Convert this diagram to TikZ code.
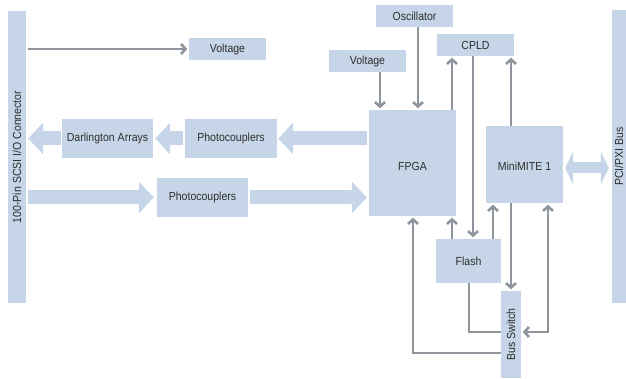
\documentclass[tikz,border=0pt]{standalone}
\usepackage{fontspec}
\setmainfont[FakeStretch=0.9]{Liberation Sans}
\usetikzlibrary{arrows.meta,calc}
\definecolor{boxfill}{HTML}{C6D5E7}
\definecolor{linegray}{HTML}{8E959C}
\definecolor{txt}{HTML}{2E2E2E}
\tikzset{
  box/.style={fill=boxfill, draw=none, inner sep=0pt, text=txt, font=\fontsize{11.7}{13}\selectfont, align=center},
  garrow/.style={draw=linegray, line width=2.6pt, -{Straight Barb[length=4.5pt,width=10pt]}, shorten >=1.5pt},
  gline/.style={draw=linegray, line width=2.6pt},
  bigarrow/.style={draw=boxfill, line width=14pt, -{Triangle[length=15pt,width=31pt]}},
  dblarrow/.style={draw=boxfill, line width=11pt, {Triangle[length=8pt,width=33pt]}-{Triangle[length=8pt,width=33pt]}},
}
\begin{document}
\begin{tikzpicture}[x=1pt,y=-1pt]
\useasboundingbox (0,0) rectangle (626,379);
% boxes
\node[box, minimum width=18pt, minimum height=292pt] (conn) at (17,157) {\rotatebox{90}{100-Pin SCSI I/O Connector}};
\node[box, minimum width=77pt, minimum height=22pt] (volt1) at (227.5,49) {Voltage};
\node[box, minimum width=91pt, minimum height=39pt] (darl) at (107.5,138.5) {Darlington Arrays};
\node[box, minimum width=92pt, minimum height=39pt] (photo1) at (231,138.5) {Photocouplers};
\node[box, minimum width=91pt, minimum height=39pt] (photo2) at (202.5,197.5) {Photocouplers};
\node[box, minimum width=87pt, minimum height=106pt, text height=16pt, text depth=0pt] (fpga) at (412.5,163) {FPGA};
\node[box, minimum width=77pt, minimum height=77pt, text height=13pt, text depth=0pt] (mini) at (524.5,164.5) {MiniMITE 1};
\node[box, minimum width=77pt, minimum height=22pt] (osc) at (414.5,16) {Oscillator};
\node[box, minimum width=77pt, minimum height=22pt] (cpld) at (475.5,45) {CPLD};
\node[box, minimum width=77pt, minimum height=22pt] (volt2) at (367.5,61) {Voltage};
\node[box, minimum width=14pt, minimum height=293pt] (pci) at (619,156.5) {\rotatebox{90}{PCI/PXI Bus}};
\node[box, minimum width=65pt, minimum height=44pt] (flash) at (468.5,261) {Flash};
\node[box, minimum width=20pt, minimum height=87pt] (bus) at (511,334.5) {\rotatebox{90}{Bus Switch}};
% helper coordinates
\coordinate (xa) at (380,0);
\coordinate (xb) at (418,0);
\coordinate (xc) at (452,0);
\coordinate (xd) at (473,0);
\coordinate (xe) at (511,0);
\coordinate (xf) at (493,0);
\coordinate (xg) at (548,0);
\coordinate (xh) at (469,0);
\coordinate (xi) at (413,0);
\coordinate (ya) at (0,332);
\coordinate (yb) at (0,353);
\coordinate (yc) at (0,168);
% big arrows
\draw[bigarrow, shorten <=2pt, shorten >=2pt] (photo1.west) -- (darl.east);
\draw[bigarrow, shorten <=1pt, shorten >=2pt] (darl.west) -- (conn.east |- darl.west);
\draw[bigarrow, shorten <=2pt, shorten >=1pt] (fpga.west |- photo1.east) -- (photo1.east);
\draw[bigarrow, shorten <=2pt, shorten >=3pt] (conn.east |- photo2.west) -- (photo2.west);
\draw[bigarrow, shorten <=2pt, shorten >=2pt] (photo2.east) -- (fpga.west |- photo2.east);
\draw[dblarrow, shorten <=2pt, shorten >=3pt] (mini.east |- yc) -- (pci.west |- yc);
% gray connectors
\draw[garrow, shorten <=2pt] (conn.east |- volt1.west) -- (volt1.west);
\draw[garrow] (volt2.south -| xa) -- (fpga.north -| xa);
\draw[garrow] (osc.south -| xb) -- (fpga.north -| xb);
\draw[garrow] (fpga.north -| xc) -- (cpld.south -| xc);
\draw[garrow] (cpld.south -| xd) -- (flash.north -| xd);
\draw[garrow] (mini.north -| xe) -- (cpld.south -| xe);
\draw[garrow] (flash.north -| xc) -- (fpga.south -| xc);
\draw[garrow] (flash.north -| xf) -- (mini.south -| xf);
\draw[garrow] (mini.south -| xe) -- (bus.north -| xe);
\draw[garrow, {Straight Barb[length=4.5pt,width=10pt]}-{Straight Barb[length=4.5pt,width=10pt]}, shorten <=1.5pt] (bus.east |- ya) -- (xg |- ya) -- (mini.south -| xg);
\draw[gline] (flash.south -| xh) |- (bus.west |- ya);
\draw[garrow] (bus.west |- yb) -| (fpga.south -| xi);
\end{tikzpicture}
\end{document}
